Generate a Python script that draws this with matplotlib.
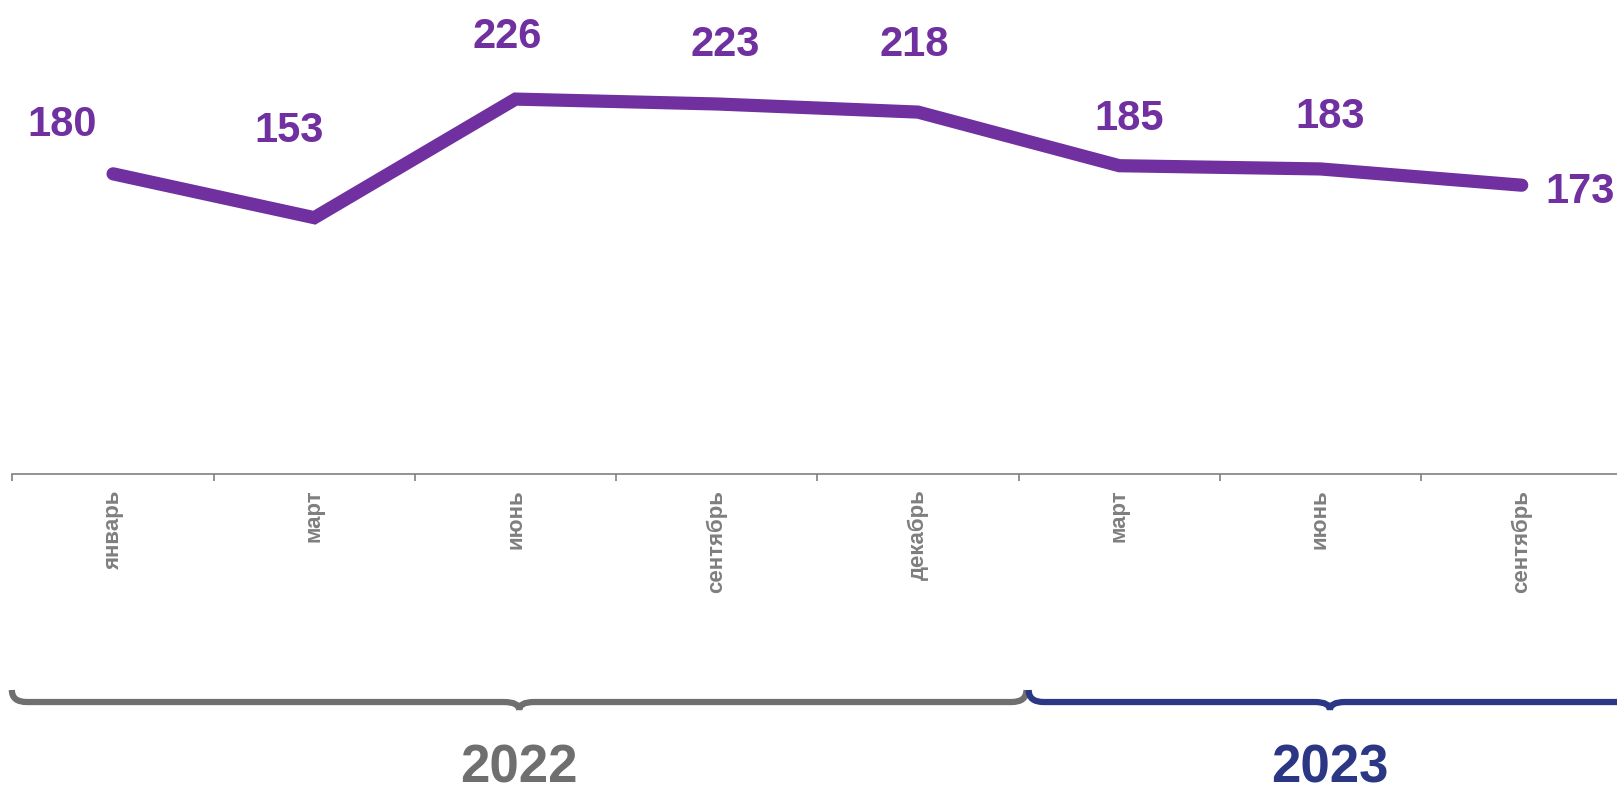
import matplotlib.pyplot as plt
from matplotlib.path import Path
from matplotlib.patches import PathPatch
import matplotlib.transforms as mtransforms

# данные
months = ['январь', 'март', 'июнь', 'сентябрь', 'декабрь', 'март', 'июнь', 'сентябрь']
values = [180, 153, 226, 223, 218, 185, 183, 173]
years = ['2022', '2023']
year_spans = [(0, 4), (5, 7)]  # индексы первой и последней категории года

# смещения подписей значений (пиксели)
label_offsets = [(-51, 53), (-25, 91), (-8, 67), (8, 63), (-4, 72), (10, 51), (10, 56), (58, -2)]
# поправки концов скобок (в долях категории)
brace_pads = [(-0.003, 0.039), (0.05, 0.044)]

purple = '#7030A0'
grey = '#6f6f6f'
year_colors = [grey, '#2b3784']

plt.rcParams['font.family'] = ['Liberation Sans', 'DejaVu Sans']

fig = plt.figure(figsize=(16.17, 7.85), dpi=100)
ax = fig.add_axes([0.0077, 0.3957, 0.9956, 0.6043])

x = list(range(len(values)))
ax.plot(x, values, color=purple, linewidth=9.5, solid_capstyle='round',
        solid_joinstyle='miter', zorder=3)

for xi, v, (dx, dy) in zip(x, values, label_offsets):
    ax.annotate(str(v), (xi, v), xytext=(dx, dy), textcoords='offset pixels',
                ha='center', va='center_baseline', fontsize=30, fontweight='bold',
                color=purple, annotation_clip=False)

ax.set_xlim(-0.5, len(values) - 0.5)
ax.set_ylim(-5, 287)

for s in ['top', 'right', 'left']:
    ax.spines[s].set_visible(False)
ax.spines['bottom'].set_color('#808080')
ax.spines['bottom'].set_linewidth(1.2)
ax.set_yticks([])

ax.set_xticks(x)
ax.set_xticklabels(months, rotation=90, fontsize=16, fontweight='bold', color='#7f7f7f')
ax.tick_params(axis='x', which='major', length=0, pad=11)
ax.set_xticks([i - 0.5 for i in range(len(values) + 1)], minor=True)
ax.tick_params(axis='x', which='minor', length=5, width=1.2, color='#808080', direction='out')


# фигурные скобки под осью
def draw_brace(x0, x1, color):
    trans = mtransforms.blended_transform_factory(ax.transData, fig.transFigure)
    y_tip, y_base, y_dip = 0.121, 0.1057, 0.0955
    r = 0.075
    xm = (x0 + x1) / 2
    verts = [(x0, y_tip), (x0, y_base), (x0 + r, y_base),
             (xm - r, y_base),
             (xm, y_base), (xm, y_dip),
             (xm, y_base), (xm + r, y_base),
             (x1 - r, y_base),
             (x1, y_base), (x1, y_tip)]
    codes = [Path.MOVETO, Path.CURVE3, Path.CURVE3,
             Path.LINETO,
             Path.CURVE3, Path.CURVE3,
             Path.CURVE3, Path.CURVE3,
             Path.LINETO,
             Path.CURVE3, Path.CURVE3]
    patch = PathPatch(Path(verts, codes), facecolor='none', edgecolor=color,
                      linewidth=4.5, transform=trans, clip_on=False, capstyle='butt')
    ax.add_patch(patch)
    return xm


for (a, b), (p0, p1), yr, c in zip(year_spans, brace_pads, years, year_colors):
    xm = draw_brace(a - 0.5 + p0, b + 0.5 + p1, c)
    ax.text(xm, 0.003, yr, transform=mtransforms.blended_transform_factory(ax.transData, fig.transFigure),
            ha='center', va='baseline', fontsize=38, fontweight='bold', color=c, clip_on=False)

fig.savefig('out.png', dpi=100)
